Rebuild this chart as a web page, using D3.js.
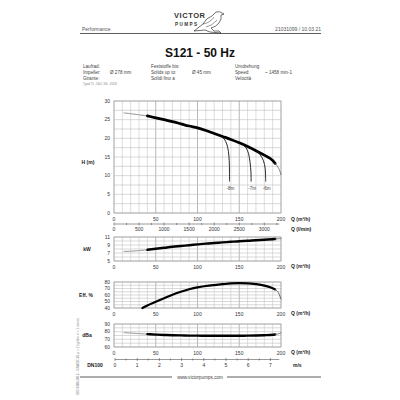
<!DOCTYPE html>
<html><head><meta charset="utf-8">
<script src="https://cdn.jsdelivr.net/npm/d3@7"></script>
<style>body{margin:0;background:#fff}svg{display:block}text{font-family:"Liberation Sans",Arial,sans-serif}</style>
</head><body><div id="c"></div>
<script>
// ---- data ----
const qFlow = [12,20,30,40,50,60,70,80,90,100,110,120,130,140,150,160,170,180,190,193,196,198,200];
const headM = [26.8,26.6,26.3,26.0,25.5,25.0,24.5,23.9,23.3,22.8,22.1,21.3,20.5,19.7,18.8,17.8,16.7,15.5,14.1,13.3,12.4,11.6,10.3];
const powerKW = [7.4,7.45,7.6,7.8,8.05,8.3,8.55,8.75,8.95,9.15,9.35,9.5,9.65,9.8,9.95,10.05,10.2,10.3,10.45,10.5,10.55,10.58,10.6];
const qEff = [34,40,50,60,70,80,90,100,110,120,130,140,150,160,170,180,187,190,193,195,197,198,199,200];
const effPct = [40,44,49.5,55,60.5,65,68.8,71.8,73.8,75.3,76.6,77.8,78.3,78.0,76.7,74.5,71.8,70.3,68.5,66.6,63.5,60.5,57,54];
const noiseDBA = [78.6,78.2,77.5,76.8,76.2,75.7,75.3,75.1,74.9,74.8,74.7,74.6,74.6,74.6,74.7,74.8,75.0,75.4,76.0,76.4,77.0,77.6,78.4];
const npshLabels = ["-8m","-7m","-6m"];
const npshQ = [[127,132,135,137,138,138.3,138.3],[153,158,161,163,164,164.2,164.2],[170,175,179,181,181.5,181.6,181.6]];
const npshH = [[20.7,19.8,18.5,16.5,14,11,8.4],[18.5,17.5,16.0,13.5,11,9.5,8.4],[16.8,15.6,14.0,12.0,10.0,9.2,8.4]];
const qTicks = [0,50,100,150,200];
const hTicks = [0,5,10,15,20,25,30];
const lminTicks = [0,500,1000,1500,2000,2500,3000];
const kwTicks = [5,7,9,11];
const effTicks = [40,50,60,70,80];
const dbaTicks = [60,70,80,90];
const msTicks = [0,1,2,3,4,5,6,7];

// ---- drawing ----
const W=400,H=400;
const svg=d3.select("#c").append("svg").attr("width",W).attr("height",H);
const X0=114,X1=281;
const x=d3.scaleLinear([0,200],[X0,X1]);
const xL=d3.scaleLinear([0,200*1000/60],[X0,X1]);
const xV=d3.scaleLinear([0,7.5],[115,281.5]);
const txtCol="#333";

function txt(t,px,py,o={}){
  return svg.append("text").attr("x",px).attr("y",py).text(t)
    .attr("font-size",o.fs||5).attr("fill",o.fill||txtCol)
    .attr("font-weight",o.fw||"normal").attr("text-anchor",o.anchor||"start");
}

// header
txt("Performance",82,31,{fs:5,fill:"#555"});
txt("21031099 /  10.03.21",321,31,{fs:5,fill:"#555",anchor:"end"});
svg.append("line").attr("x1",80).attr("x2",321).attr("y1",33.5).attr("y2",33.5).attr("stroke","#333").attr("stroke-width",0.8);
// logo
svg.append("text").attr("x",174).attr("y",18).text("VICTOR").attr("font-family","Liberation Serif,serif").attr("font-weight","bold").attr("font-size",7.5).attr("fill","#333").attr("textLength",31);
svg.append("text").attr("x",175).attr("y",25.5).text("PUMPS").attr("font-family","Liberation Serif,serif").attr("font-weight","bold").attr("font-size",4.6).attr("fill","#333").attr("textLength",22);
svg.append("path").attr("d","M194,31 L203,24 Q206,18 212,16 L216,12 Q220,11 222,13 L224,14 L221,15 Q222,19 219,23 Q216,27 211,28 L214,31 L219,31 L221,33 L210,32 L205,30 Z")
  .attr("fill","none").attr("stroke","#333").attr("stroke-width",0.7);
svg.append("path").attr("d","M203,24 Q210,23 214,17 M206,27 Q212,26 217,20").attr("fill","none").attr("stroke","#333").attr("stroke-width",0.5);
// title
txt("S121 - 50 Hz",200,57,{fs:12,fw:"bold",fill:"#111",anchor:"middle"});
// info block
const info=[["Laufrad:",83,67.5],["Impeller:",83,73.5],["Girante:",83,79.5],["\u00d8 278 mm",110,73.5],
["Feststoffe bis:",151,67.5],["Solids up to:",151,73.5],["Solidi fino a",151,79.5],["\u00d8 45 mm",192,73.5],
["Umdrehung:",235,67.5],["Speed:",235,73.5],["Velocit\u00e0",235,79.5],["~ 1458 min-1",265,73.5]];
info.forEach(d=>txt(d[0],d[1],d[2],{fs:4.6,fill:"#444"}));
txt("Typed 75 - 2004, 300 - 45820",83,84.5,{fs:2.6,fill:"#888"});

function panel(y,yTicksMinor,yLabels){
  const g=svg.append("g");
  d3.range(0,201,10).forEach(v=>{
    g.append("line").attr("x1",x(v)).attr("x2",x(v)).attr("y1",y.range()[1]).attr("y2",y.range()[0])
     .attr("stroke",(v%50===0&&v>0&&v<200)?"#8a8a8a":"#c8c8c8").attr("stroke-width",0.6);
  });
  yTicksMinor.forEach(v=>{
    g.append("line").attr("x1",X0).attr("x2",X1).attr("y1",y(v)).attr("y2",y(v))
     .attr("stroke","#c0c0c0").attr("stroke-width",0.6);
  });
  g.append("rect").attr("x",X0).attr("y",y.range()[1]).attr("width",X1-X0).attr("height",y.range()[0]-y.range()[1])
   .attr("fill","none").attr("stroke","#999").attr("stroke-width",0.7);
  yLabels.forEach(v=>txt(v,110,y(v)+1.7,{fs:5,anchor:"end"}));
  qTicks.forEach(v=>txt(v,x(v),y.range()[0]+7.5,{fs:5,anchor:"middle"}));
}
function seg(q,vals,y,lo,hi,w,col,dash){
  const pts=q.map((d,i)=>[d,vals[i]]).filter(p=>p[0]>=lo&&p[0]<=hi);
  const line=d3.line().x(p=>x(p[0])).y(p=>y(p[1])).curve(d3.curveMonotoneX);
  const p=svg.append("path").attr("d",line(pts)).attr("fill","none").attr("stroke",col).attr("stroke-width",w).attr("stroke-linecap","round");
  if(dash)p.attr("stroke-dasharray",dash);
}
function curve(q,vals,y,w){
  seg(q,vals,y,0,40,0.8,"#777","1.5,0.8");
  seg(q,vals,y,40,193,w,"#000");
  seg(q,vals,y,193,200,0.8,"#555","1.5,0.8");
}

// Main H chart
const yH=d3.scaleLinear([0,30],[213,101]);
panel(yH,d3.range(0,30.1,2.5),hTicks);
curve(qFlow,headM,yH,2.8);
npshQ.forEach((qs,i)=>{
  const pts=qs.map((q,j)=>[q,npshH[i][j]]);
  svg.append("path").attr("d",d3.line().x(p=>x(p[0])).y(p=>yH(p[1])).curve(d3.curveCatmullRom)(pts))
    .attr("fill","none").attr("stroke","#111").attr("stroke-width",0.9);
  txt(npshLabels[i],x(qs[qs.length-1])+1,189.5,{fs:4.6,anchor:"middle",fill:"#444"});
});
txt("H (m)",88,164,{fs:5,fw:"bold",anchor:"middle",fill:"#222"});
txt("Q (m\u00b3/h)",291,221,{fs:5,fw:"bold",fill:"#222"});
// l/min axis
svg.append("line").attr("x1",X0).attr("x2",xL(3300)).attr("y1",224).attr("y2",224).attr("stroke","#555").attr("stroke-width",0.6);
d3.range(0,3301,250).forEach(v=>svg.append("line").attr("x1",xL(v)).attr("x2",xL(v)).attr("y1",v%500===0?222.5:223).attr("y2",v%500===0?225.5:225).attr("stroke","#555").attr("stroke-width",0.6));
lminTicks.forEach(v=>txt(v,xL(v),231,{fs:5,anchor:"middle"}));
txt("Q (l/min)",291,231,{fs:5,fw:"bold",fill:"#222"});

// kW chart
const yK=d3.scaleLinear([5,11],[261,237]);
panel(yK,d3.range(5,11.1,1),kwTicks);
curve(qFlow,powerKW,yK,2.4);
txt("kW",87,251,{fs:5,fw:"bold",anchor:"middle",fill:"#222"});
txt("Q (m\u00b3/h)",291,268,{fs:5,fw:"bold",fill:"#222"});

// Efficiency chart
const yE=d3.scaleLinear([40,80],[308,282]);
panel(yE,d3.range(40,80.1,5),effTicks);
seg(qEff,effPct,yE,30,193,2.2,"#000");
seg(qEff,effPct,yE,193,200,0.9,"#555");
txt("Eff. %",86,297,{fs:5,fw:"bold",anchor:"middle",fill:"#222"});
txt("Q (m\u00b3/h)",291,315,{fs:5,fw:"bold",fill:"#222"});

// dBa chart
const yD=d3.scaleLinear([60,90],[347,324]);
panel(yD,d3.range(60,90.1,5),dbaTicks);
curve(qFlow,noiseDBA,yD,2.4);
txt("dBa",87,337,{fs:5,fw:"bold",anchor:"middle",fill:"#222"});
txt("Q (m\u00b3/h)",291,354,{fs:5,fw:"bold",fill:"#222"});

// m/s axis
svg.append("line").attr("x1",xV(0)).attr("x2",xV(7.4)).attr("y1",359.5).attr("y2",359.5).attr("stroke","#555").attr("stroke-width",0.6);
d3.range(0,7.41,0.5).forEach(v=>svg.append("line").attr("x1",xV(v)).attr("x2",xV(v)).attr("y1",Number.isInteger(v)?358:358.5).attr("y2",Number.isInteger(v)?361:360.5).attr("stroke","#555").attr("stroke-width",0.6));
msTicks.forEach(v=>txt(v,xV(v),367,{fs:5,anchor:"middle"}));
txt("DN100",95,367,{fs:5,fw:"bold",anchor:"middle",fill:"#222"});
txt("m/s",293,367,{fs:5,fw:"bold",fill:"#222"});

// side note
svg.append("text").attr("transform","translate(79,395) rotate(-90)").text("ISO 9906:2012 - GRADE 3B   \u03c1 = 1 kg/dm\u00b3   \u03bd = 1 mm\u00b2/s")
  .attr("font-size",3.2).attr("fill","#777");

// footer
svg.append("line").attr("x1",80).attr("x2",172).attr("y1",377).attr("y2",377).attr("stroke","#333").attr("stroke-width",0.8);
svg.append("line").attr("x1",227).attr("x2",321).attr("y1",377).attr("y2",377).attr("stroke","#333").attr("stroke-width",0.8);
txt("www.victorpumps.com",200,378.5,{fs:4.6,anchor:"middle",fill:"#444"});
</script></body></html>
